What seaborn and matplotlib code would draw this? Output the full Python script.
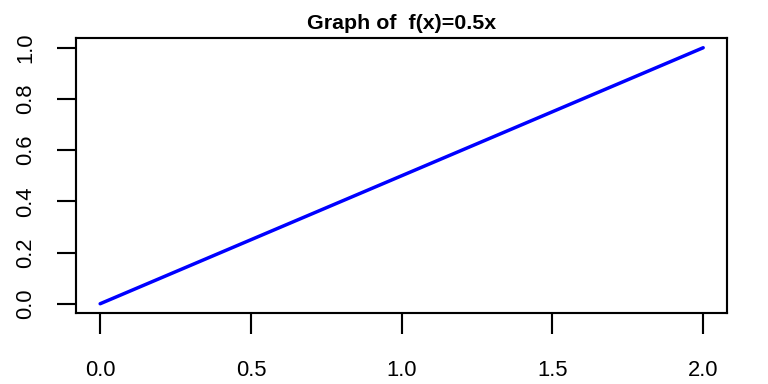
import seaborn as sns
import pandas as pd
import matplotlib.pyplot as plt

x_vals = [0.0, 0.5, 1.0, 1.5, 2.0]
y_vals = [0.0, 0.25, 0.5, 0.75, 1.0]
x_ticks = [0.0, 0.5, 1.0, 1.5, 2.0]
y_ticks = [0.0, 0.2, 0.4, 0.6, 0.8, 1.0]

sns.set_style("ticks")
plt.rcParams['font.family'] = ['Liberation Sans', 'DejaVu Sans']
plt.rcParams['text.color'] = 'black'

df = pd.DataFrame({"x": x_vals, "y": y_vals})

fig = plt.figure(figsize=(8, 4), dpi=96)
ax = fig.add_axes([0.099, 0.185, 0.848, 0.716])
sns.lineplot(x="x", y="y", data=df, color="#0000ff", linewidth=2.6, ax=ax)

ax.set_xlim(-0.08, 2.08)
ax.set_ylim(-0.036, 1.038)
ax.set_xticks(x_ticks)
ax.set_xticklabels([f"{t:.1f}" for t in x_ticks])
ax.set_yticks(y_ticks)
ax.set_yticklabels([f"{t:.1f}" for t in y_ticks], rotation=90, va="center")
ax.set_xlabel("")
ax.set_ylabel("")

for s in ax.spines.values():
    s.set_visible(True)
    s.set_color("black")
    s.set_linewidth(1.6)

ax.tick_params(axis="x", direction="out", length=15.5, width=1.6, pad=20,
               labelsize=16.5, colors="black")
ax.tick_params(axis="y", direction="out", length=14, width=1.6, pad=16,
               labelsize=16.5, colors="black")

ax.set_title("Graph of  f(x)=0.5x", fontsize=16, fontweight="bold", pad=7,
             color="black")

fig.savefig("out.png", dpi=96)
